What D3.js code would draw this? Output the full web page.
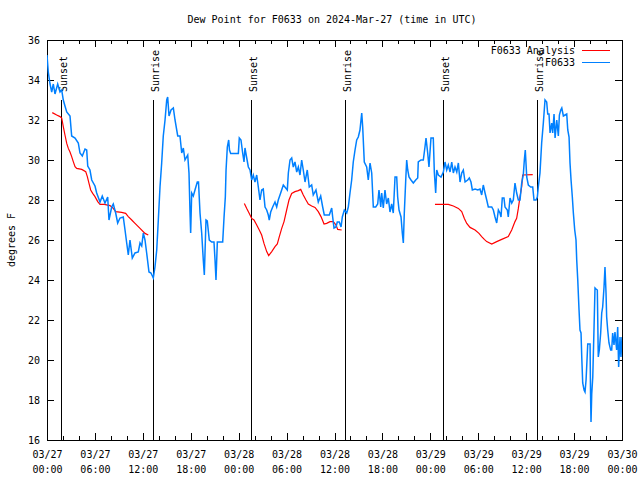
<!DOCTYPE html>
<html>
<head>
<meta charset="utf-8">
<script src="https://cdn.jsdelivr.net/npm/d3@7/dist/d3.min.js"></script>
<style>
  html, body { margin: 0; padding: 0; background: #fff; }
  svg text { font-family: "DejaVu Sans Mono", monospace; font-size: 10px; fill: #000; }
</style>
</head>
<body>
<svg id="chart" width="640" height="480"></svg>
<script>
// ---- DATA (hours since 2024-03-27 00:00 UTC) ----
const obsHours = [0,0.16,0.38,0.59,0.79,1.0,1.34,1.63,1.84,2.04,2.25,2.47,2.88,3.09,3.51,3.92,4.13,4.42,4.76,4.97,5.10,5.38,5.60,6.01,6.22,6.64,6.92,7.26,7.60,7.76,8.10,8.30,8.60,8.85,9.14,9.55,9.77,9.98,10.18,10.39,10.68,11.02,11.43,11.65,11.86,12.06,12.27,12.48,12.77,13.02,13.31,13.52,13.74,13.94,14.15,14.36,14.56,14.78,14.99,15.11,15.28,15.53,15.82,16.03,16.37,16.65,16.87,17.07,17.28,17.62,17.78,17.91,17.99,18.12,18.32,18.53,18.82,18.97,19.16,19.37,19.57,19.70,19.91,20.07,20.32,20.62,20.91,21.04,21.16,21.33,22.0,22.17,22.33,22.42,22.58,22.75,22.85,23.0,23.96,24.08,24.29,24.50,24.67,24.79,25.01,25.21,25.42,25.63,25.83,26.04,26.26,26.46,26.67,26.88,27.08,27.30,27.51,27.71,27.83,28.01,28.26,28.55,28.76,28.96,29.26,29.59,29.89,30.09,30.22,30.43,30.64,30.84,31.05,31.27,31.47,31.68,31.89,32.09,32.31,32.59,32.84,33.14,33.34,33.68,33.97,34.27,34.52,34.72,35.35,35.65,35.77,35.94,36.19,36.35,36.60,36.82,36.98,37.23,37.53,37.73,37.94,38.15,38.35,38.57,38.78,38.98,39.19,39.41,39.53,39.73,40.03,40.23,40.45,40.66,40.86,41.16,41.41,41.57,41.79,41.91,42.11,42.32,42.53,42.74,42.95,43.16,43.36,43.58,43.79,43.91,44.08,44.33,44.49,44.62,44.74,44.92,45.04,45.17,45.33,45.58,45.87,46.17,46.42,46.49,46.83,47.12,47.33,47.46,47.67,47.83,48.08,48.37,48.50,48.67,48.80,49.0,49.34,49.63,49.84,50.05,50.25,50.47,50.68,50.88,51.09,51.31,51.51,51.72,51.93,52.13,52.35,52.68,52.88,53.09,53.26,53.60,53.94,54.22,54.43,54.63,54.85,55.06,55.26,55.69,55.89,56.10,56.31,56.52,56.72,56.85,57.01,57.22,57.35,57.64,57.76,57.98,58.19,58.39,58.60,58.81,59.02,59.23,59.44,59.64,59.77,59.89,60.07,60.27,60.57,60.82,60.98,61.23,61.40,61.52,61.73,61.94,62.15,62.36,62.57,62.70,62.86,62.99,63.20,63.32,63.49,63.62,63.83,64.03,64.16,64.33,64.46,64.66,64.87,65.08,65.21,65.37,65.49,65.62,65.78,65.91,66.08,66.24,66.33,66.46,66.62,66.74,66.87,66.96,67.08,67.25,67.37,67.50,67.66,67.71,68.0,68.06,68.12,68.21,68.34,68.50,68.62,68.75,68.91,69.03,69.16,69.33,69.46,69.58,69.75,69.87,70.0,70.08,70.21,70.37,70.58,70.71,70.83,71.0,71.12,71.33,71.46,71.58,71.75,71.87,72.0];
const obsDew = [35.25,34.4,33.8,33.4,33.8,33.3,33.8,33.4,33.5,33.0,32.7,32.4,32.2,31.2,31.1,30.85,30.35,30.2,30.55,30.5,29.7,29.5,29.0,28.7,28.35,27.9,28.2,27.85,28.15,27.0,27.65,27.8,27.35,26.85,27.1,27.15,26.5,25.85,25.25,26.0,25.1,25.35,25.4,25.85,25.7,26.35,26.0,25.35,24.4,24.35,24.1,24.65,25.5,27.0,28.65,29.85,31.2,32.0,33.0,33.15,32.2,32.5,32.6,32.0,31.2,31.2,30.35,30.6,30.0,30.25,29.35,27.35,26.35,28.35,28.2,28.5,28.9,28.9,27.35,26.35,25.0,24.25,27.0,26.95,26.0,25.9,25.9,25.0,24.0,25.9,25.9,27.15,28.15,29.5,30.65,31.0,30.5,30.33,30.33,31.1,31.0,30.35,29.9,30.6,30.1,29.65,29.5,29.0,29.25,28.9,29.25,28.65,28.0,28.5,28.55,27.65,27.5,27.25,27.0,27.4,27.65,27.9,27.65,28.0,28.35,28.75,28.6,28.5,29.35,30.0,30.1,29.65,29.9,29.4,29.65,29.25,30.0,29.5,28.9,29.5,28.65,28.75,28.25,28.5,27.9,28.2,27.65,27.25,27.25,27.6,27.15,26.6,26.65,26.9,26.9,26.65,27.15,27.5,27.35,27.65,28.35,29.0,29.9,30.5,31.0,31.15,31.5,32.35,31.65,29.9,29.65,29.0,29.85,29.35,27.65,27.65,27.8,28.5,27.65,28.35,27.6,28.5,27.8,28.1,27.4,27.8,27.35,29.15,29.15,28.15,27.5,27.15,26.35,25.85,27.35,29.0,30.0,29.5,29.15,29.0,28.85,29.0,29.1,29.9,30.0,30.0,30.65,31.1,30.35,29.65,31.1,31.1,29.4,28.35,29.5,29.25,29.15,29.4,29.9,29.5,29.75,29.4,29.9,29.35,29.65,29.4,29.85,28.9,29.35,29.5,28.9,29.0,29.1,28.9,28.5,28.55,28.5,28.55,28.25,28.75,28.35,28.0,27.65,27.65,27.5,27.15,26.85,27.5,27.35,27.15,28.1,28.1,27.65,27.5,27.15,28.1,27.85,28.0,28.85,28.35,28.0,28.0,28.85,29.25,30.0,30.5,29.15,28.75,28.65,28.65,28.0,28.0,28.15,28.65,29.35,30.85,31.85,33.0,32.9,32.3,32.3,31.35,31.85,31.35,32.3,31.1,32.0,31.2,32.25,32.5,32.6,32.2,32.25,32.3,31.5,31.15,29.85,29.0,28.15,27.35,26.5,26.0,25.0,24.0,22.5,21.5,21.35,20.15,18.85,18.5,18.4,19.0,20.35,20.8,20.8,18.35,16.9,18.3,19.15,21.65,23.6,23.55,23.5,20.15,20.5,21.35,22.35,22.65,23.65,24.65,23.35,22.15,21.5,20.85,20.5,20.5,21.35,20.75,21.4,20.5,21.65,19.65,21.15,20.15,21.15];

// analysis: null separates segments
const anaHours = [0.66,1.21,1.63,1.84,2.04,2.25,2.47,2.67,2.88,3.09,3.29,3.51,3.72,4.35,4.85,5.05,5.26,5.47,5.72,6.01,6.35,6.64,7.18,7.89,8.30,8.60,9.35,9.85,10.18,10.61,11.02,11.65,12.27,12.68,
  12.9,
  24.71,25.01,25.33,25.63,25.92,26.26,26.58,26.88,27.17,27.51,27.76,28.14,28.55,28.84,29.09,29.39,29.68,30.01,30.30,30.64,31.05,31.47,31.77,32.09,32.43,32.72,33.14,33.56,33.97,34.31,34.69,35.02,35.44,35.85,36.19,36.40,36.90,
  37.0,
  48.58,50.25,50.88,51.51,51.93,52.26,52.56,52.97,53.60,54.09,54.43,54.76,55.06,55.69,56.31,56.94,57.76,58.19,58.60,58.81,59.02,59.23,59.44,59.56,60.82];
const anaDew = [32.37,32.25,32.17,32.1,31.67,31.25,30.83,30.58,30.4,30.17,29.92,29.67,29.58,29.53,29.42,29.17,28.83,28.5,28.33,28.17,27.92,27.78,27.78,27.72,27.58,27.42,27.38,27.33,27.17,27.0,26.83,26.58,26.33,26.25,
  null,
  27.83,27.58,27.33,27.08,27.0,26.75,26.5,26.25,25.83,25.42,25.22,25.42,25.67,25.8,26.17,26.58,26.92,27.5,28.0,28.33,28.42,28.47,28.53,28.25,28.0,27.8,27.7,27.63,27.42,27.17,26.8,26.83,26.92,26.92,26.75,26.53,26.5,
  null,
  27.78,27.78,27.7,27.58,27.42,27.08,26.83,26.63,26.5,26.33,26.17,26.03,25.92,25.8,25.92,26.03,26.17,26.5,26.92,27.08,27.58,28.17,28.67,29.25,29.27];

const sunHours = [1.75, 13.3, 25.55, 37.35, 49.6, 61.35];
const sunLabels = ["Sunset", "Sunrise", "Sunset", "Sunrise", "Sunset", "Sunrise"];

const xMajorHours = [0, 6, 12, 18, 24, 30, 36, 42, 48, 54, 60, 66, 72];
const xMinorHours = d3.range(0, 73, 2);
const yTickValues = [16, 18, 20, 22, 24, 26, 28, 30, 32, 34, 36];

const titleText = "Dew Point for F0633 on 2024-Mar-27 (time in UTC)";
const yLabelText = "degrees F";
const seriesNames = ["F0633 Analysis", "F0633"];
const seriesColors = ["#ff0000", "#0080ff"];

// ---- LAYOUT ----
const svg = d3.select("#chart");
const L = 47, R = 622, T = 40, B = 440;
const t0 = Date.UTC(2024, 2, 27, 0, 0);
const toDate = h => new Date(t0 + h * 3600e3);

const x = d3.scaleUtc().domain([toDate(0), toDate(72)]).range([L, R]);
const y = d3.scaleLinear().domain([16, 36]).range([B, T]);

svg.append("defs").append("clipPath").attr("id", "clip")
  .append("rect").attr("x", L).attr("y", T).attr("width", R - L).attr("height", B - T);

// title
svg.append("text").attr("x", 332).attr("y", 23).attr("text-anchor", "middle").text(titleText);

// y label
svg.append("text").attr("transform", "translate(15,240) rotate(-90)")
  .attr("text-anchor", "middle").text(yLabelText);

// axes: minor x ticks
const fmtD = d3.utcFormat("%m/%d"), fmtT = d3.utcFormat("%H:%M");
svg.append("g").attr("transform", `translate(0,${B})`)
  .call(d3.axisBottom(x).tickValues(xMinorHours.map(toDate)).tickSizeInner(-4).tickSizeOuter(0).tickFormat(""))
  .call(g => g.select(".domain").remove());
svg.append("g").attr("transform", `translate(0,${T})`)
  .call(d3.axisTop(x).tickValues(xMinorHours.map(toDate)).tickSizeInner(-4).tickSizeOuter(0).tickFormat(""))
  .call(g => g.select(".domain").remove());
// major x ticks with labels
const xb = svg.append("g").attr("transform", `translate(0,${B})`)
  .call(d3.axisBottom(x).tickValues(xMajorHours.map(toDate)).tickSizeInner(-7).tickSizeOuter(0).tickPadding(8).tickFormat(""))
  .call(g => g.select(".domain").remove());
xb.selectAll(".tick").each(function(d) {
  const t = d3.select(this).select("text").attr("y", null).attr("dy", null);
  t.append("tspan").attr("x", 0).attr("y", 18).text(fmtD(d));
  t.append("tspan").attr("x", 0).attr("y", 33).text(fmtT(d));
});
svg.append("g").attr("transform", `translate(0,${T})`)
  .call(d3.axisTop(x).tickValues(xMajorHours.map(toDate)).tickSizeInner(-7).tickSizeOuter(0).tickFormat(""))
  .call(g => g.select(".domain").remove());

// y axes
svg.append("g").attr("transform", `translate(${L},0)`)
  .call(d3.axisLeft(y).tickValues(yTickValues).tickSizeInner(-7).tickSizeOuter(0).tickPadding(7).tickFormat(d3.format("d")))
  .call(g => g.select(".domain").remove())
  .call(g => g.selectAll("text").attr("dy", "0.35em"));
svg.append("g").attr("transform", `translate(${R},0)`)
  .call(d3.axisRight(y).tickValues(yTickValues).tickSizeInner(-7).tickSizeOuter(0).tickFormat(""))
  .call(g => g.select(".domain").remove());

svg.selectAll(".tick line").attr("stroke", "#000").attr("shape-rendering", "crispEdges");
svg.selectAll(".tick text").style("font-family", '"DejaVu Sans Mono", monospace').style("font-size", "10px").attr("fill", "#000");

// frame
svg.append("rect").attr("x", L + 0.5).attr("y", T + 0.5).attr("width", R - L).attr("height", B - T)
  .attr("fill", "none").attr("stroke", "#000").attr("stroke-width", 1).attr("shape-rendering", "crispEdges");

// sun lines
const sunTop = y(16 + 0.85 * 20);
sunHours.forEach((h, i) => {
  const sx = Math.round(x(toDate(h))) + 0.5;
  svg.append("line").attr("x1", sx).attr("x2", sx).attr("y1", sunTop).attr("y2", B)
    .attr("stroke", "#000").attr("stroke-width", 1);
  svg.append("text").attr("transform", `translate(${sx + 5},92) rotate(-90)`)
    .attr("text-anchor", "start").text(sunLabels[i]);
});

// series
const plot = svg.append("g").attr("clip-path", "url(#clip)");
const obsData = obsHours.map((h, i) => ({ t: toDate(h), v: obsDew[i] }));
const anaData = anaHours.map((h, i) => ({ t: toDate(h), v: anaDew[i] }));
const line = d3.line().defined(d => d.v != null).x(d => x(d.t)).y(d => y(d.v));

plot.append("path").datum(anaData).attr("d", line)
  .attr("fill", "none").attr("stroke", seriesColors[0]).attr("stroke-width", 1.2);
plot.append("path").datum(obsData).attr("d", line)
  .attr("fill", "none").attr("stroke", seriesColors[1]).attr("stroke-width", 1.5).attr("stroke-linejoin", "miter");

// legend
const legY = [50, 62];
seriesNames.forEach((name, i) => {
  svg.append("text").attr("x", 575).attr("y", legY[i]).attr("dy", "0.35em")
    .attr("text-anchor", "end").text(name);
  svg.append("line").attr("x1", 582).attr("x2", 610).attr("y1", legY[i] + 0.5).attr("y2", legY[i] + 0.5)
    .attr("stroke", seriesColors[i]).attr("stroke-width", 1);
});
</script>
</body>
</html>
